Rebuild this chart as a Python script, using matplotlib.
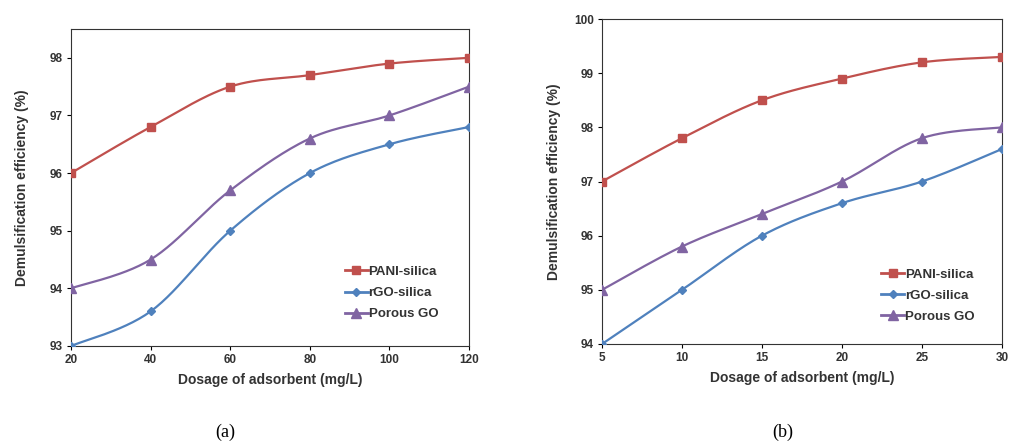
import numpy as np
import matplotlib
matplotlib.use("Agg")
import matplotlib.pyplot as plt

plt.rcParams['font.family'] = ['Liberation Sans', 'DejaVu Sans']

# panel (a)
dose_a = [20, 40, 60, 80, 100, 120]
pani_a = [96.0, 96.8, 97.5, 97.7, 97.9, 98.0]
rgo_a = [93.0, 93.6, 95.0, 96.0, 96.5, 96.8]
porous_a = [94.0, 94.5, 95.7, 96.6, 97.0, 97.5]

# panel (b)
dose_b = [5, 10, 15, 20, 25, 30]
pani_b = [97.0, 97.8, 98.5, 98.9, 99.2, 99.3]
rgo_b = [94.0, 95.0, 96.0, 96.6, 97.0, 97.6]
porous_b = [95.0, 95.8, 96.4, 97.0, 97.8, 98.0]

series_names = ['PANI-silica', 'rGO-silica', 'Porous GO']
colors = ['#C0504D', '#4F81BD', '#8064A2']
markers = ['s', 'D', '^']
msizes = [6, 4.5, 6.5]


def smooth(x, y, n=30):
    # Excel-style smoothed line: cubic bezier with catmull-rom tangents
    x = np.asarray(x, float)
    y = np.asarray(y, float)
    xs, ys = [], []
    t = np.linspace(0, 1, n)
    for i in range(len(x) - 1):
        i0 = max(i - 1, 0)
        i3 = min(i + 2, len(x) - 1)
        c1 = (x[i] + (x[i + 1] - x[i0]) / 6, y[i] + (y[i + 1] - y[i0]) / 6)
        c2 = (x[i + 1] - (x[i3] - x[i]) / 6, y[i + 1] - (y[i3] - y[i]) / 6)
        bx = (1-t)**3*x[i] + 3*(1-t)**2*t*c1[0] + 3*(1-t)*t**2*c2[0] + t**3*x[i+1]
        by = (1-t)**3*y[i] + 3*(1-t)**2*t*c1[1] + 3*(1-t)*t**2*c2[1] + t**3*y[i+1]
        xs.extend(bx)
        ys.extend(by)
    return xs, ys


def draw(ax, x, ys, xlim, ylim, yticks, ylpad, leg_xy):
    for y, name, c, m, ms in zip(ys, series_names, colors, markers, msizes):
        sx, sy = smooth(x, y)
        ax.plot(sx, sy, color=c, lw=1.6, zorder=2)
        ax.plot(x, y, ls='none', marker=m, color=c, ms=ms, zorder=3)
        ax.plot([], [], color=c, lw=2, marker=m, ms=ms, label=name)
    ax.set_xlim(*xlim)
    ax.set_ylim(*ylim)
    ax.set_xticks(x)
    ax.set_yticks(yticks)
    for lab in ax.get_xticklabels() + ax.get_yticklabels():
        lab.set_fontweight('bold')
        lab.set_fontsize(8.5)
        lab.set_color('#333333')
    ax.tick_params(direction='out', length=3, width=0.8, pad=3)
    for s in ax.spines.values():
        s.set_linewidth(0.8)
        s.set_color('#333333')
    ax.set_xlabel('Dosage of adsorbent (mg/L)', fontsize=10, fontweight='bold',
                  color='#333333', labelpad=5)
    ax.set_ylabel('Demulsification efficiency (%)', fontsize=10, fontweight='bold',
                  color='#333333', labelpad=ylpad)
    leg = ax.legend(loc='center left', bbox_to_anchor=leg_xy, frameon=False,
                    borderpad=0, borderaxespad=0,
                    handlelength=1.75, handletextpad=0.05, labelspacing=0.67,
                    prop={'weight': 'bold', 'size': 9.5})
    for t in leg.get_texts():
        t.set_color('#333333')


fig = plt.figure(figsize=(10.11, 4.45), dpi=100)
ax1 = fig.add_axes([71 / 1011, 1 - 346 / 445, 398 / 1011, 317 / 445])
ax2 = fig.add_axes([602 / 1011, 1 - 344 / 445, 400 / 1011, 325 / 445])

draw(ax1, dose_a, [pani_a, rgo_a, porous_a], (20, 120), (93, 98.5),
     [93, 94, 95, 96, 97, 98], 15, (0.688, 0.167))
draw(ax2, dose_b, [pani_b, rgo_b, porous_b], (5, 30), (94, 100),
     [94, 95, 96, 97, 98, 99, 100], 9, (0.6975, 0.148))

fig.text(225 / 1011, 1 - 432 / 445, '(a)', family='Liberation Serif', fontsize=13,
         ha='center', va='center')
fig.text(783 / 1011, 1 - 432 / 445, '(b)', family='Liberation Serif', fontsize=13,
         ha='center', va='center')

fig.savefig('out.png', dpi=100)
